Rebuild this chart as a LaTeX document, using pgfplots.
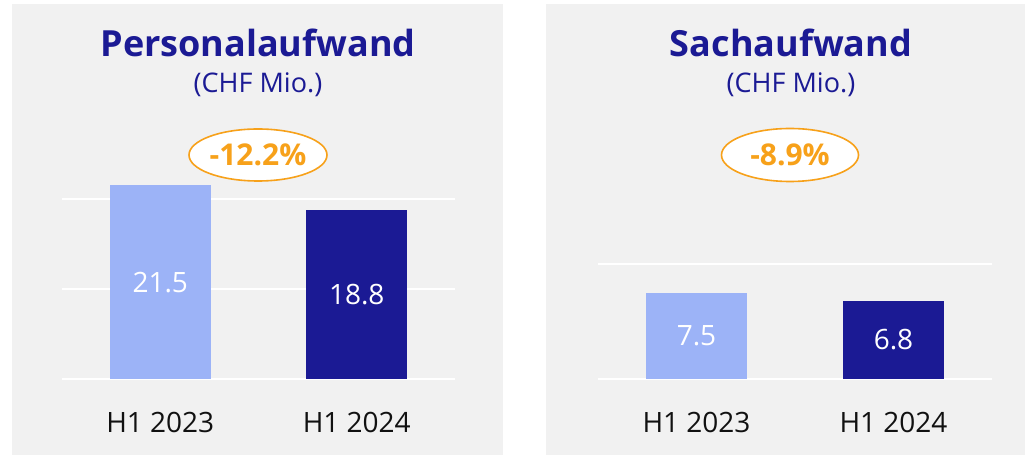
\documentclass[border=0pt]{standalone}
\usepackage{pgfplots}
\pgfplotsset{compat=1.18}
\usepackage{fontspec}
\setmainfont{Open Sans}
\usetikzlibrary{shapes.geometric}
\definecolor{navy}{HTML}{1B1A94}
\definecolor{lightbar}{HTML}{9CB3F7}
\definecolor{panelbg}{HTML}{F1F1F1}
\definecolor{orng}{HTML}{F7A11A}
\definecolor{tickcol}{HTML}{111111}
\tikzset{vallabel/.style={white, font=\fontsize{28}{30}\selectfont}}
\pgfplotsset{
  panel/.style={
    scale only axis, clip=false,
    anchor=south west,
    xmin=-0.5, xmax=1.5, ymin=0,
    xtick={0,1}, xticklabels={H1 2023, H1 2024},
    xticklabel style={font=\fontsize{28}{30}\selectfont, text=tickcol, anchor=base, yshift=-53pt},
    yticklabels={}, major tick length=0pt,
    axis line style={draw=none},
    ymajorgrids, grid style={white, line width=2.5pt},
    ybar, bar width=101pt, bar shift=0pt,
  },
}
\begin{document}
\begin{tikzpicture}[x=1pt,y=1pt]
\path[use as bounding box, fill=white] (0,0) rectangle (1025,455);
\fill[panelbg] (12,0) rectangle (503,451);
\fill[panelbg] (546,0) rectangle (1025,451);
% titles
\node[anchor=base, text=navy, font=\fontsize{36}{40}\selectfont\bfseries] at (258,398) {Personalaufwand};
\node[anchor=base, text=navy, font=\fontsize{27}{30}\selectfont] at (258,362) {(CHF Mio.)};
\node[anchor=base, text=navy, font=\fontsize{36}{40}\selectfont\bfseries] at (791,398) {Sachaufwand};
\node[anchor=base, text=navy, font=\fontsize{27}{30}\selectfont] at (791,362) {(CHF Mio.)};
% change ellipses
\node[ellipse, draw=orng, line width=1.6pt, fill=white, minimum width=138pt, minimum height=52pt, inner sep=0pt,
      text=orng, font=\fontsize{30}{32}\selectfont\bfseries] at (258,300) {-12.2\%};
\node[ellipse, draw=orng, line width=1.6pt, fill=white, minimum width=137pt, minimum height=53pt, inner sep=0pt,
      text=orng, font=\fontsize{30}{32}\selectfont\bfseries] at (790,300) {-8.9\%};
% left chart
\begin{axis}[panel, at={(62pt,76pt)}, width=393pt, height=198pt, ymax=22, ytick={0,10,20}]
\addplot[fill=lightbar, draw=none] coordinates {(0,21.5)};
\addplot[fill=navy, draw=none] coordinates {(1,18.8)};
\node[vallabel] at (axis cs:0,10.75) {21.5};
\node[vallabel] at (axis cs:1,9.4) {18.8};
\end{axis}
% right chart
\begin{axis}[panel, at={(598pt,76pt)}, width=394pt, height=126.5pt, ymax=11, ytick={0,10}]
\addplot[fill=lightbar, draw=none] coordinates {(0,7.5)};
\addplot[fill=navy, draw=none] coordinates {(1,6.8)};
\node[vallabel] at (axis cs:0,3.75) {7.5};
\node[vallabel] at (axis cs:1,3.4) {6.8};
\end{axis}
\end{tikzpicture}
\end{document}
